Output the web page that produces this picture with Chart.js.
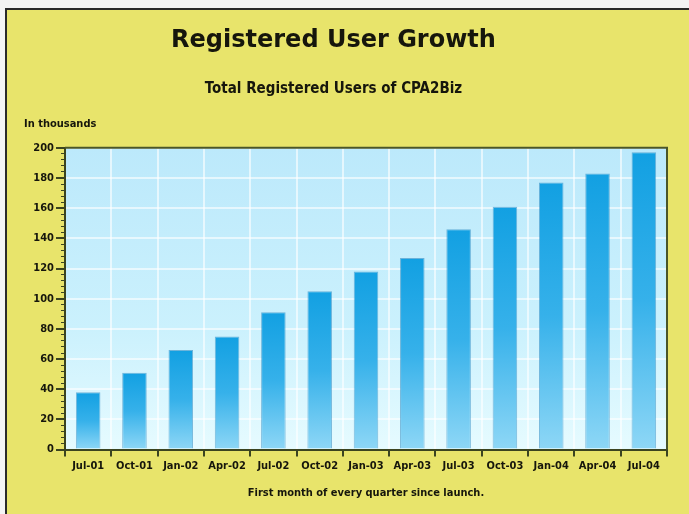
<!DOCTYPE html>
<html>
<head>
<meta charset="utf-8">
<script src="https://cdn.jsdelivr.net/npm/chart.js@4.4.1/dist/chart.umd.min.js"></script>
<style>
  html, body { margin: 0; padding: 0; background: #f4f4f4; }
  #wrap { position: absolute; left: 0; top: 0; width: 689px; height: 514px; }
</style>
</head>
<body>
<div id="wrap"><canvas id="c" width="689" height="514"></canvas></div>
<script>
const categories = ['Jul-01','Oct-01','Jan-02','Apr-02','Jul-02','Oct-02','Jan-03','Apr-03','Jul-03','Oct-03','Jan-04','Apr-04','Jul-04'];
const users = [38, 51, 66, 75, 91, 105, 118, 127, 146, 161, 177, 183, 197];
const yTicks = [0, 20, 40, 60, 80, 100, 120, 140, 160, 180, 200];

const FONT = "'DejaVu Sans Condensed', 'Liberation Sans Narrow', sans-serif";
const TXT = '#16160c';
const AXIS = '#3b4420';

const background = {
  id: 'background',
  beforeDraw(chart) {
    const ctx = chart.ctx, a = chart.chartArea;
    ctx.save();
    ctx.fillStyle = '#f4f4f4';
    ctx.fillRect(0, 0, chart.width, chart.height);
    ctx.fillStyle = '#e8e46b';
    ctx.fillRect(5, 8, chart.width - 5, chart.height - 8);
    ctx.strokeStyle = '#2a2a2a';
    ctx.lineWidth = 2;
    ctx.beginPath();
    ctx.moveTo(6, chart.height);
    ctx.lineTo(6, 9);
    ctx.lineTo(chart.width, 9);
    ctx.stroke();
    const g = ctx.createLinearGradient(0, a.top, 0, a.bottom);
    g.addColorStop(0, '#bce9fb');
    g.addColorStop(0.6, '#cbf1fd');
    g.addColorStop(1, '#e6fbff');
    ctx.fillStyle = g;
    ctx.fillRect(a.left, a.top, a.right - a.left, a.bottom - a.top);
    ctx.restore();
  },
  afterDraw(chart) {
    const ctx = chart.ctx, a = chart.chartArea;
    ctx.save();
    ctx.strokeStyle = '#4a5628';
    ctx.lineWidth = 2;
    ctx.beginPath();
    ctx.moveTo(a.left, a.top);
    ctx.lineTo(a.right, a.top);
    ctx.lineTo(a.right, a.bottom);
    ctx.stroke();
    ctx.fillStyle = TXT;
    ctx.font = "bold 11px " + FONT;
    ctx.textAlign = 'left';
    ctx.textBaseline = 'middle';
    ctx.fillText('In thousands', 24, a.top - 24);
    ctx.restore();
  }
};

function barFill(context) {
  const chart = context.chart;
  const a = chart.chartArea;
  if (!a) return '#2aaae6';
  const y = chart.scales.y;
  const v = context.raw;
  const top = y.getPixelForValue(v);
  const bot = y.getPixelForValue(0);
  const g = chart.ctx.createLinearGradient(0, top, 0, bot);
  g.addColorStop(0, '#12a0e2');
  g.addColorStop(0.5, '#36b1ea');
  g.addColorStop(1, '#8ed7f6');
  return g;
}

new Chart(document.getElementById('c'), {
  type: 'bar',
  data: {
    labels: categories,
    datasets: [{
      label: 'Registered users (thousands)',
      data: users,
      backgroundColor: barFill,
      borderColor: 'rgba(30,130,190,0.55)',
      borderWidth: 1,
      barPercentage: 0.53,
      categoryPercentage: 1.0
    }]
  },
  plugins: [background],
  options: {
    responsive: false,
    animation: false,
    devicePixelRatio: 1,
    layout: { padding: { left: 0, right: 22, top: 0, bottom: 14 } },
    plugins: {
      legend: { display: false },
      tooltip: { enabled: false },
      title: {
        display: true,
        text: 'Registered User Growth',
        color: TXT,
        font: { family: "'DejaVu Sans', sans-serif", size: 24, weight: 'bold', lineHeight: 1.2 },
        padding: { top: 26, bottom: 25 }
      },
      subtitle: {
        display: true,
        text: 'Total Registered Users of CPA2Biz',
        color: TXT,
        font: { family: FONT, size: 15, weight: 'bold', lineHeight: 1.2 },
        padding: { top: 0, bottom: 50 }
      }
    },
    scales: {
      x: {
        grid: {
          display: true,
          offset: true,
          color: 'rgba(255,255,255,0.6)',
          lineWidth: 2,
          tickColor: AXIS,
          tickLength: 7
        },
        border: { display: true, color: AXIS, width: 2 },
        ticks: {
          color: TXT,
          font: { family: FONT, size: 11, weight: 'bold' },
          padding: 3,
          maxRotation: 0,
          autoSkip: false
        },
        title: {
          display: true,
          text: 'First month of every quarter since launch.',
          color: TXT,
          font: { family: FONT, size: 11, weight: 'bold', lineHeight: 1.2 },
          padding: { top: 11, bottom: 0 }
        }
      },
      y: {
        position: 'left',
        weight: 1,
        min: 0,
        max: 200,
        afterBuildTicks(scale) { scale.ticks = yTicks.map(v => ({ value: v })); },
        afterFit(scale) { scale.width = 65; },
        grid: {
          color: 'rgba(255,255,255,0.6)',
          lineWidth: 2,
          tickColor: AXIS,
          tickLength: 9
        },
        border: { display: true, color: AXIS, width: 2 },
        ticks: {
          color: TXT,
          font: { family: FONT, size: 11, weight: 'bold' },
          padding: 2
        }
      },
      yMinor: {
        position: 'left',
        weight: 0,
        min: 0,
        max: 200,
        ticks: { display: false, stepSize: 4 },
        afterFit(scale) { scale.width = 0; },
        grid: {
          drawOnChartArea: false,
          color: AXIS,
          tickColor: AXIS,
          lineWidth: 1,
          tickLength: 4
        },
        border: { display: false }
      }
    }
  }
});
</script>
</body>
</html>
